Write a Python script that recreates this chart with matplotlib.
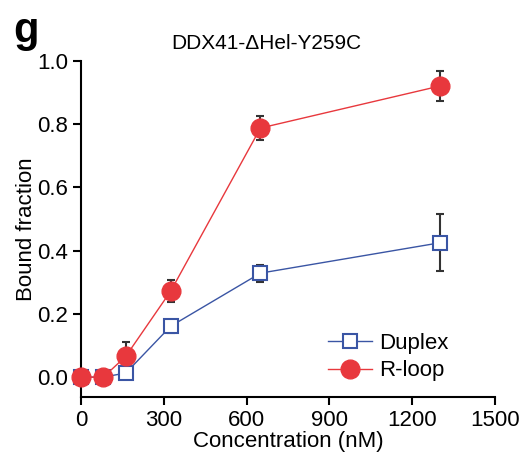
import numpy as np
import matplotlib.pyplot as plt

plt.rcParams['font.family'] = ['Liberation Sans', 'DejaVu Sans']

# Data
conc = [0, 81.25, 162.5, 325, 650, 1300]
duplex = [0.0, 0.0, 0.013, 0.161, 0.329, 0.425]
duplex_err = [0.0, 0.0, 0.015, 0.02, 0.027, 0.09]
rloop = [0.0, 0.0, 0.066, 0.272, 0.788, 0.921]
rloop_err = [0.0, 0.0, 0.045, 0.035, 0.037, 0.046]

blue = '#3A55A4'
red = '#E8383D'

fig = plt.figure(figsize=(5.19, 4.59), dpi=100)
ax = fig.add_axes([0.156, 0.135, 0.798, 0.732])

# error bars behind markers
ax.errorbar(conc, duplex, yerr=duplex_err, fmt='none', ecolor='#333333',
            elinewidth=1.5, capsize=3, capthick=1.5, zorder=1, clip_on=False)
ax.errorbar(conc, rloop, yerr=rloop_err, fmt='none', ecolor='#333333',
            elinewidth=1.5, capsize=3, capthick=1.5, zorder=1, clip_on=False)

ax.plot(conc, duplex, color=blue, lw=1, marker='s', ms=10, mfc='white',
        mec=blue, mew=1.5, label='Duplex', zorder=3, clip_on=False)
ax.plot(conc, rloop, color=red, lw=1, marker='o', ms=13.5, mfc=red,
        mec=red, label='R-loop', zorder=4, clip_on=False)

ax.set_xlim(0, 1500)
ax.set_ylim(-0.063, 1.0)
ax.set_xticks([0, 300, 600, 900, 1200, 1500])
ax.set_yticks([0.0, 0.2, 0.4, 0.6, 0.8, 1.0])
ax.set_yticklabels(['0.0', '0.2', '0.4', '0.6', '0.8', '1.0'])
ax.spines['top'].set_visible(False)
ax.spines['right'].set_visible(False)
ax.spines['left'].set_linewidth(1.5)
ax.spines['bottom'].set_linewidth(1.5)
ax.tick_params(direction='out', length=6, width=1.5, labelsize=16, pad=3)
ax.set_xlabel('Concentration (nM)', fontsize=16, labelpad=0)
ax.set_ylabel('Bound fraction', fontsize=16, labelpad=0)
ax.set_title('DDX41-\u0394Hel-Y259C', fontsize=15, pad=9, x=0.447)

ax.legend(loc='lower right', bbox_to_anchor=(0.925, 0.0), frameon=False,
          fontsize=16, handlelength=2.0, handletextpad=0.3,
          labelspacing=0.3, borderpad=0.2)

fig.text(0.025, 0.975, 'g', fontsize=30, fontweight='bold', va='top')

fig.savefig('out.png', dpi=100)
